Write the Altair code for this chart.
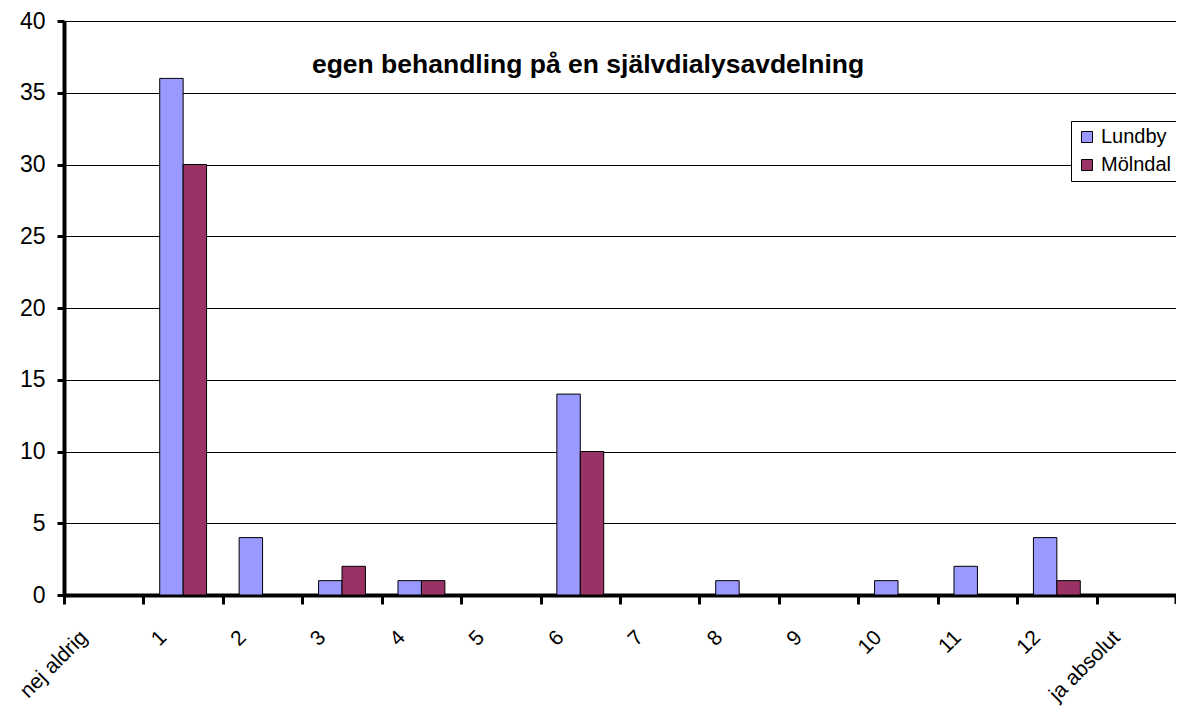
import altair as alt
import pandas as pd

categories = ["nej aldrig", "1", "2", "3", "4", "5", "6", "7", "8", "9", "10", "11", "12", "ja absolut"]
lundby = [0, 36, 4, 1, 1, 0, 14, 0, 1, 0, 1, 2, 4, 0]
molndal = [0, 30, 0, 2, 1, 0, 10, 0, 0, 0, 0, 0, 1, 0]
series = ["Lundby", "Mölndal"]
colors = ["#9999FF", "#993366"]
title_text = "egen behandling på en självdialysavdelning"
y_ticks = [0, 5, 10, 15, 20, 25, 30, 35, 40]

rows = []
for i, c in enumerate(categories):
    rows.append({"cat": c, "serie": series[0], "value": lundby[i]})
    rows.append({"cat": c, "serie": series[1], "value": molndal[i]})
df = pd.DataFrame(rows)

W = 1112
H = 574
step = W / len(categories)
FONT = "Liberation Sans"

bars = alt.Chart(df).mark_bar(stroke="black", strokeWidth=1).encode(
    x=alt.X(
        "cat:N",
        sort=categories,
        scale=alt.Scale(paddingInner=0.41, paddingOuter=0.205),
        axis=alt.Axis(
            title=None,
            labelAngle=-45,
            labelAlign="right",
            labelBaseline="middle",
            labelFontSize=21,
            labelFont=FONT,
            labelColor="black",
            labelPadding=30,
            labelOverlap=False,
            tickOffset=-step / 2,
            labelOffset=step / 2 - 20,
            tickSize=9,
            tickWidth=3,
            tickColor="black",
            domainColor="black",
            domainWidth=4,
            grid=False,
        ),
    ),
    xOffset=alt.XOffset("serie:N", sort=series),
    y=alt.Y(
        "value:Q",
        scale=alt.Scale(domain=[0, 40], nice=False),
        axis=alt.Axis(
            values=y_ticks,
            title=None,
            labelFontSize=23,
            labelFont=FONT,
            labelColor="black",
            labelPadding=12,
            tickSize=7,
            tickWidth=3,
            tickColor="black",
            domainColor="black",
            domainWidth=4,
            grid=True,
            gridColor="black",
            gridWidth=1,
            gridOpacity=1,
        ),
    ),
    color=alt.Color(
        "serie:N",
        scale=alt.Scale(domain=series, range=colors),
        legend=alt.Legend(
            title=None,
            orient="none",
            legendX=1007,
            legendY=100,
            strokeColor="black",
            fillColor="white",
            padding=6,
            cornerRadius=0,
            symbolType="square",
            symbolSize=121,
            symbolStrokeColor="black",
            symbolStrokeWidth=1,
            symbolOpacity=1,
            labelFontSize=20,
            labelFont=FONT,
            labelColor="black",
            labelOffset=4,
            rowPadding=8,
        ),
    ),
)

title_layer = alt.Chart(pd.DataFrame({"t": [title_text]})).mark_text(
    font=FONT, fontSize=26.5, fontWeight="bold", color="black",
    align="center", baseline="alphabetic"
).encode(text="t:N", x=alt.value(524), y=alt.value(52))

end_tick = alt.Chart(pd.DataFrame({"a": [0]})).mark_rule(
    color="black", strokeWidth=3
).encode(x=alt.value(W), y=alt.value(H), y2=alt.value(H + 9))

chart = alt.layer(bars, title_layer, end_tick).properties(
    width=W,
    height=H,
    autosize=alt.AutoSizeParams(type="none"),
    padding={"left": 56, "top": 13, "right": 0, "bottom": 116},
).configure_view(stroke="#888888", strokeWidth=1)

chart.save("out.html", embed_options={"renderer": "svg", "actions": False})
